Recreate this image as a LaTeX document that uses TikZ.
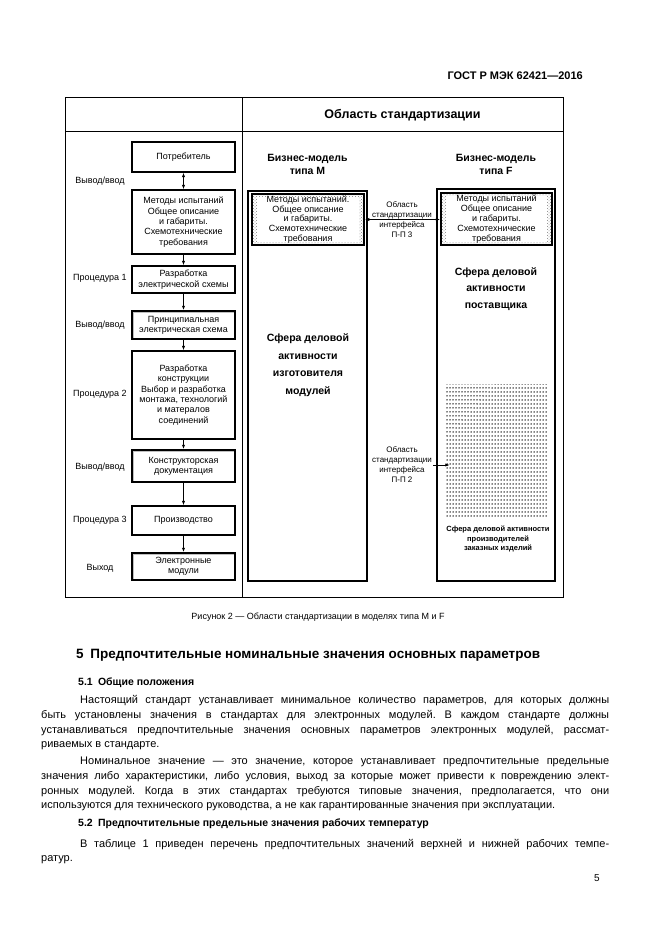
\documentclass[tikz,border=0pt]{standalone}
\usepackage{fontspec}
\setmainfont{Liberation Sans}
\usetikzlibrary{positioning, patterns, calc, arrows.meta}

\newcommand{\fs}[2]{\fontsize{#1}{#2}\selectfont}
\newcommand{\jline}[2]{\makebox[#1][s]{#2}}
\pgfdeclarepatternformonly{stipple}{\pgfqpoint{-1pt}{-1pt}}{\pgfqpoint{2pt}{3pt}}{\pgfqpoint{3pt}{4pt}}{%
	\pgfpathcircle{\pgfqpoint{0pt}{0pt}}{0.75pt}\pgfusepath{fill}}
\frenchspacing

\begin{document}
\begin{tikzpicture}[
		x=1pt, y=-1pt,
		font=\fs{9}{10.3},
		% Styles for the left column (stages of work)
		stagebox/.style={draw, line width=1.2pt, minimum width=103pt, inner sep=1pt, align=center},
		iobox/.style={stagebox, line width=1.5pt,
			path picture={\draw[gray!50, line width=3pt] (path picture bounding box.south west) rectangle (path picture bounding box.north east);}},
		stagename/.style={align=center},
		% Styles for the two business models
		modelbox/.style={draw, line width=1.2pt, inner sep=0pt},
		modeltitle/.style={font=\bfseries\fs{10.5}{13}, align=center},
		specbox/.style={draw, line width=1.5pt, inner sep=0pt, align=center, font=\fs{9}{9.8},
			pattern=crosshatch dots, pattern color=gray,
			path picture={\fill[white] ($(path picture bounding box.south west)+(5pt,3pt)$) rectangle ($(path picture bounding box.north east)+(-5pt,-3pt)$);}},
		sphere/.style={font=\bfseries\fs{10.5}{17.5}, align=center},
		iface/.style={font=\fs{8}{10}, align=center, inner sep=1pt},
		% Connector styles
		flow/.style={-{Latex[length=4.5pt, width=3.2pt]}, line width=0.8pt},
		bothflow/.style={{Latex[length=4.5pt, width=3.2pt]}-{Latex[length=4.5pt, width=3.2pt]}, line width=0.8pt},
		% Styles for the text of the page
		bodyline/.style={anchor=west, inner sep=0pt, font=\fs{11}{15}},
		headline/.style={anchor=west, inner sep=0pt, font=\bfseries\fs{10.5}{15}}
		]
		
		\fill[white] (0,0) rectangle (661,936);
		\useasboundingbox (0,0) rectangle (661,936);
		
		% --- 1. Running head ---
		\node[anchor=east, inner sep=0pt, font=\bfseries\fs{11}{13}] (runhead) at (583,76) {ГОСТ Р МЭК 62421—2016};
		
		% --- 2. Frame of the figure ---
		\draw[line width=1pt] (65,98) rectangle (563,597);
		\draw[line width=1pt] (65,132) -- (563,132);
		\draw[line width=1pt] (242,98) -- (242,597);
		\node[font=\bfseries\fs{12.5}{14}] (area) at (402.5,115) {Область стандартизации};
		
		% --- 3. Left column: stages ---
		\node[stagebox, minimum height=30pt] (consumer) at (183.5,157) {Потребитель};
		\node[stagebox, minimum height=64pt] (specs) at (183.5,222) {Методы испытаний\\Общее описание\\и габариты.\\Схемотехнические\\требования};
		\node[stagebox, minimum height=27pt] (circuit) at (183.5,279.5) {Разработка\\электрической схемы};
		\node[iobox, minimum height=28pt] (schematic) at (183.5,325) {Принципиальная\\электрическая схема};
		\node[stagebox, minimum height=88pt] (design) at (183.5,395) {Разработка\\конструкции\\Выбор и разработка\\монтажа, технологий\\и матералов\\соединений};
		\node[iobox, minimum height=32pt] (docs) at (183.5,466) {Конструкторская\\документация};
		\node[stagebox, minimum height=29pt] (production) at (183.5,520.5) {Производство};
		\node[iobox, minimum height=27pt] (modules) at (183.5,566.5) {Электронные\\модули};
		
		\node[stagename] (io1) at (100,181) {Вывод/ввод};
		\node[stagename] (proc1) at (100,278) {Процедура 1};
		\node[stagename] (io2) at (100,325) {Вывод/ввод};
		\node[stagename] (proc2) at (100,394) {Процедура 2};
		\node[stagename] (io3) at (100,467) {Вывод/ввод};
		\node[stagename] (proc3) at (100,520) {Процедура 3};
		\node[stagename] (output) at (100,568) {Выход};
		
		\draw[bothflow] (consumer) -- (specs);
		\draw[flow] (specs) -- (circuit);
		\draw[flow] (circuit) -- (schematic);
		\draw[flow] (schematic) -- (design);
		\draw[flow] (design) -- (docs);
		\draw[flow] (docs) -- (production);
		\draw[flow] (production) -- (modules);
		
		% --- 4. Business models M and F ---
		\node[modelbox, minimum width=119pt, minimum height=390pt] (mbox) at (307.5,386) {};
		\node[modelbox, minimum width=118pt, minimum height=392pt] (fbox) at (496,385) {};
		\node[modeltitle] (mtitle) at (307.5,164) {Бизнес-модель\\типа M};
		\node[modeltitle] (ftitle) at (496,164) {Бизнес-модель\\типа F};
		
		\node[specbox, minimum width=112pt, minimum height=51pt] (mspec) at (308,219.5) {Методы испытаний.\\Общее описание\\и габариты.\\Схемотехнические\\требования};
		\node[specbox, minimum width=111pt, minimum height=52pt] (fspec) at (496.5,219) {Методы испытаний\\Общее описание\\и габариты.\\Схемотехнические\\требования};
		
		\node[sphere] (maker) at (308,365) {Сфера деловой\\активности\\изготовителя\\модулей};
		\node[sphere, font=\bfseries\fs{10.5}{16.5}] (supplier) at (496,289) {Сфера деловой\\активности\\поставщика};
		\node[minimum width=102pt, minimum height=133pt, inner sep=0pt, pattern=stipple] (custom) at (497,450.5) {};
		\node[font=\bfseries\fs{7.5}{9.3}, align=center] (customtext) at (498,539) {Сфера деловой активности\\производителей\\заказных изделий};
		
		% --- 5. Interfaces between the models ---
		\draw[bothflow] (mspec.east) -- (mspec.east -| fspec.west);
		\node[iface] (iface3) at (402,220) {Область\\стандартизации\\интерфейса\\П-П 3};
		\node[iface] (iface2) at (402,465) {Область\\стандартизации\\интерфейса\\П-П 2};
		\draw[flow] (iface2.east) -- ([xshift=4pt]custom.west |- iface2.east);
		
		% --- 6. Caption and text of the page ---
		\node[font=\fs{9}{11}] (caption) at (318,617) {Рисунок 2 — Области стандартизации в моделях типа M и F};
		\node[anchor=west, inner sep=0pt, font=\bfseries\fs{13.5}{16}] (sec5) at (76,655) {5\enspace Предпочтительные номинальные значения основных параметров};
		\node[headline] (sec51) at (78,683) {5.1\enspace Общие положения};
		\node[bodyline] (p1a) at (80,701) {\jline{529pt}{Настоящий стандарт устанавливает минимальное количество параметров, для которых должны}};
		\node[bodyline] (p1b) at (41,716) {\jline{568pt}{быть установлены значения в стандартах для электронных модулей. В каждом стандарте должны}};
		\node[bodyline] (p1c) at (41,731) {\jline{568pt}{устанавливаться предпочтительные значения основных параметров электронных модулей, рассмат-}};
		\node[bodyline] (p1d) at (41,746) {риваемых в стандарте.};
		\node[bodyline] (p2a) at (80,762) {\jline{529pt}{Номинальное значение — это значение, которое устанавливает предпочтительные предельные}};
		\node[bodyline] (p2b) at (41,777) {\jline{568pt}{значения либо характеристики, либо условия, выход за которые может привести к повреждению элект-}};
		\node[bodyline] (p2c) at (41,792) {\jline{568pt}{ронных модулей. Когда в этих стандартах требуются типовые значения, предполагается, что они}};
		\node[bodyline] (p2d) at (41,807) {используются для технического руководства, а не как гарантированные значения при эксплуатации.};
		\node[headline] (sec52) at (78,824) {5.2\enspace Предпочтительные предельные значения рабочих температур};
		\node[bodyline] (p3a) at (80,845) {\jline{529pt}{В таблице 1 приведен перечень предпочтительных значений верхней и нижней рабочих темпе-}};
		\node[bodyline] (p3b) at (41,860) {ратур.};
		\node[anchor=east, inner sep=0pt, font=\fs{10}{12}] (pagenum) at (600,878) {5};
		
	\end{tikzpicture}
\end{document}
